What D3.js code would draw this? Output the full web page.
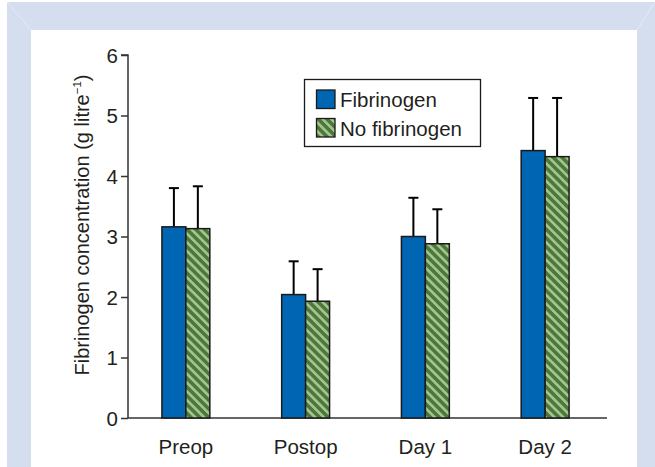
<!DOCTYPE html>
<html>
<head>
<meta charset="utf-8">
<script src="https://cdn.jsdelivr.net/npm/d3@7/dist/d3.min.js"></script>
<style>
  html, body { margin: 0; padding: 0; background: #fff; }
  svg { display: block; font-family: "Liberation Sans", Arial, Helvetica, sans-serif; }
</style>
</head>
<body>
<svg id="chart" width="655" height="467"></svg>
<script>
const categories = ["Preop", "Postop", "Day 1", "Day 2"];
const seriesNames = ["Fibrinogen", "No fibrinogen"];
const fibrinogenMean = [3.16, 2.04, 3.00, 4.42];
const fibrinogenUpper = [3.80, 2.59, 3.64, 5.29];
const noFibrinogenMean = [3.13, 1.93, 2.88, 4.32];
const noFibrinogenUpper = [3.83, 2.46, 3.45, 5.29];
const yTicks = [0, 1, 2, 3, 4, 5, 6];

const svg = d3.select("#chart");
const W = 655, H = 467;

// Frame
svg.append("rect").attr("x", 0).attr("y", 0).attr("width", W).attr("height", H).attr("fill", "#ffffff");
svg.append("rect").attr("x", 7).attr("y", 2).attr("width", W - 7).attr("height", H - 2).attr("fill", "#d5deef");
svg.append("rect").attr("x", 31).attr("y", 30).attr("width", 606).attr("height", H - 30).attr("fill", "#ffffff");
svg.append("line").attr("x1", 7).attr("y1", 2).attr("x2", 31).attr("y2", 30).attr("stroke", "#e4eaf5").attr("stroke-width", 1);
svg.append("line").attr("x1", W).attr("y1", 2).attr("x2", 637).attr("y2", 30).attr("stroke", "#e4eaf5").attr("stroke-width", 1);

// Hatch pattern
const defs = svg.append("defs");
const P = 6.2;
const pat = defs.append("pattern")
  .attr("id", "hatch").attr("patternUnits", "userSpaceOnUse")
  .attr("width", P).attr("height", P)
  .attr("patternTransform", "rotate(-45)");
pat.append("rect").attr("width", P).attr("height", P).attr("fill", "#4a7a34");
pat.append("rect").attr("x", 0).attr("y", 0).attr("width", 2.6).attr("height", P).attr("fill", "#a8c39a");

const x0 = d3.scaleBand().domain(categories).range([126, 605]).paddingInner(0.6).paddingOuter(0.3);
const x1 = d3.scaleBand().domain(seriesNames).range([0, x0.bandwidth()]);
const y = d3.scaleLinear().domain([0, 6]).range([418, 55]);

const textColor = "#231f20";
const FS = "20.5px";

// Y axis
const yAxis = svg.append("g").attr("transform", "translate(128,0)")
  .call(d3.axisLeft(y).tickValues(yTicks).tickSize(7).tickPadding(3).tickFormat(d3.format("d")));
yAxis.select(".domain").attr("stroke", "#333").attr("stroke-width", 1.5).attr("d", `M-7,${y(6)}H0V${y(0)}`);
yAxis.selectAll(".tick line").attr("stroke", "#333").attr("stroke-width", 1.5);
yAxis.selectAll(".tick text").attr("fill", textColor).style("font-size", FS).attr("dy", "0.35em");

// X axis
const xAxis = svg.append("g").attr("transform", `translate(0,${y(0)})`)
  .call(d3.axisBottom(x0).tickSize(0).tickPadding(21));
xAxis.select(".domain").attr("stroke", "#333").attr("stroke-width", 1.5).attr("d", `M128,0H607`);
xAxis.selectAll(".tick text").attr("fill", textColor).style("font-size", FS).attr("dy", "0.71em");

// Data rows
const rows = categories.map((c, i) => ({
  cat: c,
  vals: [
    { s: seriesNames[0], v: fibrinogenMean[i], u: fibrinogenUpper[i] },
    { s: seriesNames[1], v: noFibrinogenMean[i], u: noFibrinogenUpper[i] }
  ]
}));
const fillFor = s => s === seriesNames[0] ? "#0066b3" : "url(#hatch)";

const groups = svg.append("g").selectAll("g").data(rows).join("g")
  .attr("transform", d => `translate(${x0(d.cat)},0)`);

groups.selectAll("g.err").data(d => d.vals).join("g").attr("class", "err").each(function(d) {
  const g = d3.select(this);
  const cx = x1(d.s) + x1.bandwidth() / 2;
  g.append("line").attr("x1", cx).attr("x2", cx).attr("y1", y(d.v)).attr("y2", y(d.u))
    .attr("stroke", "#000").attr("stroke-width", 2);
  g.append("line").attr("x1", cx - 5).attr("x2", cx + 5).attr("y1", y(d.u)).attr("y2", y(d.u))
    .attr("stroke", "#000").attr("stroke-width", 2);
});

groups.selectAll("rect.bar").data(d => d.vals).join("rect").attr("class", "bar")
  .attr("x", d => x1(d.s))
  .attr("width", x1.bandwidth())
  .attr("y", d => y(d.v))
  .attr("height", d => y(0) - y(d.v))
  .attr("fill", d => fillFor(d.s))
  .attr("stroke", "#1a1a1a").attr("stroke-width", 1.5);

// Y-axis title
const title = svg.append("text")
  .attr("transform", `translate(89,225) rotate(-90)`)
  .attr("text-anchor", "middle").attr("fill", textColor).style("font-size", "20px");
title.append("tspan").text("Fibrinogen concentration (g litre");
title.append("tspan").text("\u22121").style("font-size", "11.5px").attr("dy", "-8");
title.append("tspan").text(")").attr("dy", "8");

// Legend
const legend = svg.append("g");
legend.append("rect").attr("x", 304.5).attr("y", 79.5).attr("width", 176).attr("height", 67)
  .attr("fill", "#fff").attr("stroke", "#1a1a1a").attr("stroke-width", 1.3);
seriesNames.forEach((s, i) => {
  const yy = 90 + i * 28.5;
  legend.append("rect").attr("x", 316.5).attr("y", yy).attr("width", 18.5).attr("height", 18.5)
    .attr("fill", fillFor(s)).attr("stroke", "#1a1a1a").attr("stroke-width", 1.3);
  legend.append("text").attr("x", 340).attr("y", yy + 17).attr("fill", textColor)
    .style("font-size", FS).text(s);
});
</script>
</body>
</html>
